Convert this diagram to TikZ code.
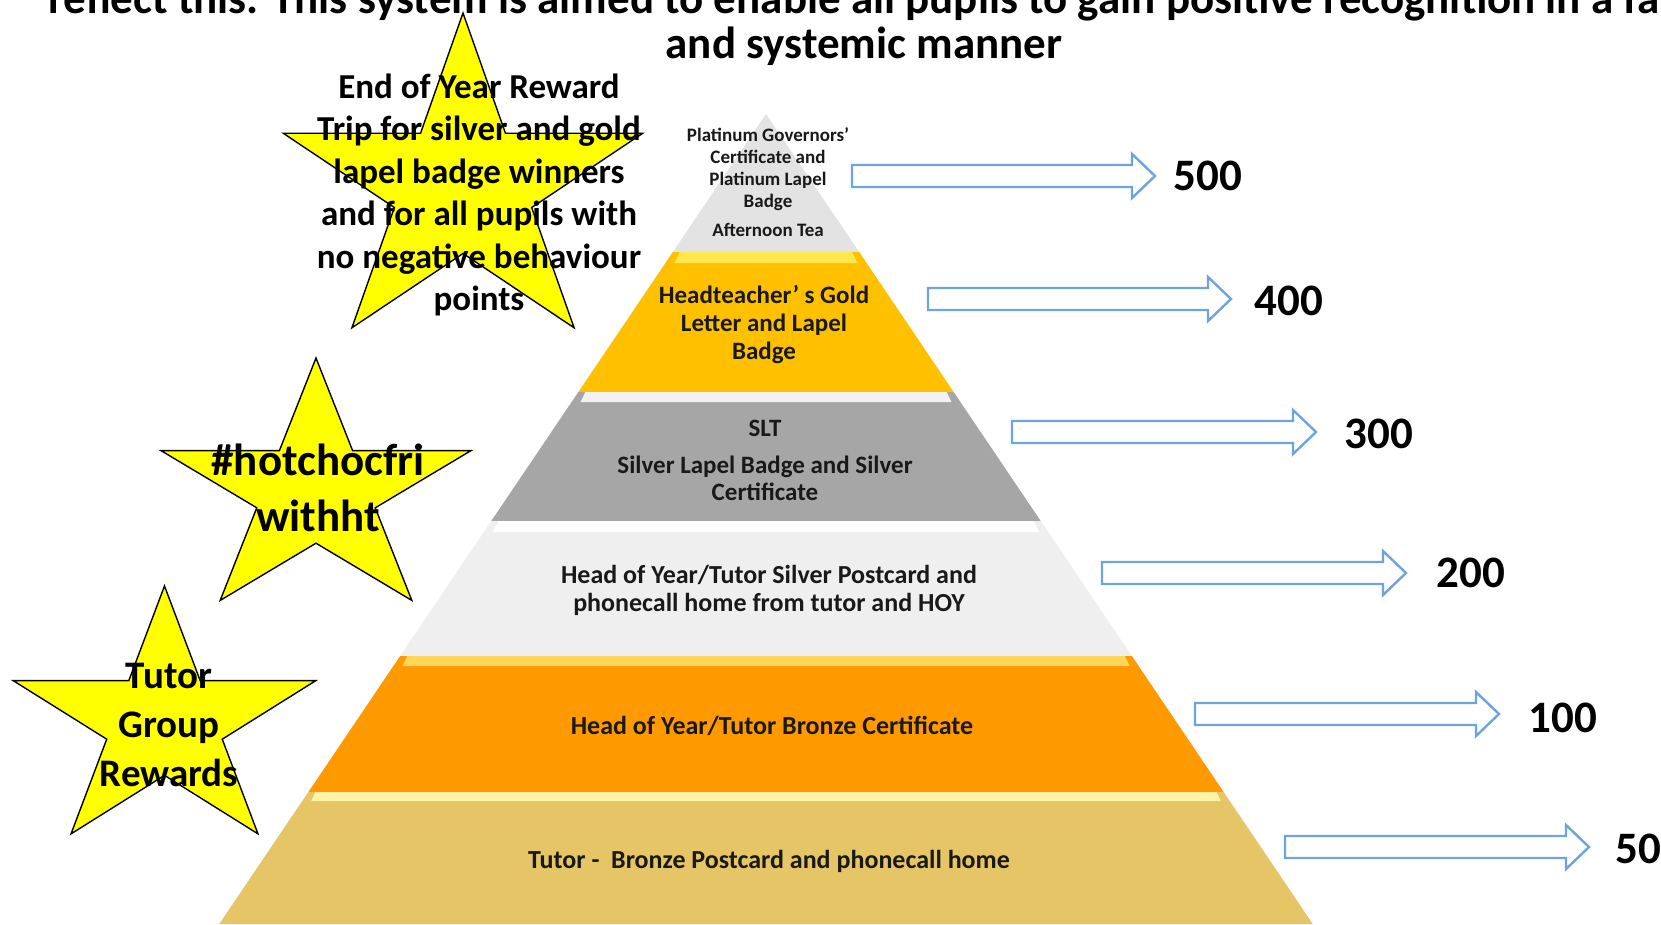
\documentclass[tikz,border=0pt]{standalone}
\usepackage{fontspec}
\setmainfont{Carlito}
\definecolor{plat}{HTML}{E3E3E3}
\definecolor{goldband}{HTML}{FFC000}
\definecolor{goldhi}{HTML}{FFE84D}
\definecolor{silverband}{HTML}{A6A6A6}
\definecolor{lgray}{HTML}{EFEFEF}
\definecolor{orng}{HTML}{FF9900}
\definecolor{orhi}{HTML}{FFD65A}
\definecolor{tanband}{HTML}{E5C566}
\definecolor{tanhi}{HTML}{FFF3A6}
\definecolor{arrowblue}{HTML}{6FA3DC}
\definecolor{staryellow}{HTML}{FFFF00}
\tikzset{
  starstyle/.style={fill=staryellow, draw=black, line width=1.4pt, line join=miter},
  blockarrow/.style={draw=arrowblue, fill=white, line width=2.4pt, line join=miter},
  startext/.style={align=center, inner sep=0pt, font=\bfseries},
  pyrtext/.style={align=center, inner sep=0pt, font=\bfseries, text=black!90},
  numlabel/.style={inner sep=0pt, font=\bfseries\fontsize{45}{50}\selectfont}
}
\newcommand\band[3]{\fill[#3] ({766-(#1-114)*0.675},#1) -- ({766+(#1-114)*0.675},#1) -- ({766+(#2-114)*0.675},#2) -- ({766-(#2-114)*0.675},#2) -- cycle;}
\newcommand\bevel[3]{\fill[#3] ({766-(#1-114)*0.675+7},#1) -- ({766+(#1-114)*0.675-7},#1) -- ({766+(#2-114)*0.675-9},#2) -- ({766-(#2-114)*0.675+9},#2) -- cycle;}
\newcommand\drawstar[4]{\draw[starstyle] plot[samples at={0,1,...,9}, variable=\k] ({#1+#3*(0.691+0.309*cos(180*\k))*cos(90+36*\k)},{#2-#4*(0.691+0.309*cos(180*\k))*sin(90+36*\k)}) -- cycle;}
\newcommand\barrow[3]{\draw[blockarrow] (#1,#3-11) -- (#2-23,#3-11) -- (#2-23,#3-22) -- (#2,#3) -- (#2-23,#3+22) -- (#2-23,#3+11) -- (#1,#3+11) -- cycle;}
\begin{document}
\begin{tikzpicture}[x=1pt, y=-1pt]
\path[use as bounding box] (0,0) rectangle (1661,924);
\clip (0,0) rectangle (1661,924);
\fill[white] (0,0) rectangle (1661,924);

% title
\node[anchor=base west, inner sep=0pt, font=\bfseries\fontsize{45}{54}\selectfont] (title1) at (48,13) {reflect this. This system is aimed to enable all pupils to gain positive recognition in a fair};
\node[anchor=base, inner sep=0pt, font=\bfseries\fontsize{45}{54}\selectfont] (title2) at (864,58) {and systemic manner};

% pyramid
\fill[plat] (766,114) -- ({766+(252-114)*0.675},252) -- ({766-(252-114)*0.675},252) -- cycle;
\band{252}{392}{goldband}
\bevel{252}{263}{goldhi}
\band{392}{521}{silverband}
\bevel{392}{402}{white!95!black}
\band{521}{656}{lgray}
\bevel{521}{532}{white}
\band{656}{792}{orng}
\bevel{656}{666}{orhi}
\band{792}{924}{tanband}
\bevel{792}{801}{tanhi}

% pyramid texts
\node[pyrtext, font=\bfseries\fontsize{19}{22}\selectfont] (platinum) at (768,182) {Platinum Governors'\\Certificate and\\Platinum Lapel\\Badge\\[7pt]Afternoon Tea};
\node[pyrtext, font=\bfseries\fontsize{25}{28}\selectfont] (gold) at (764,325) {Headteacher' s Gold\\Letter and Lapel\\Badge};
\node[pyrtext, font=\bfseries\fontsize{25}{27}\selectfont] (silver) at (765,460) {SLT\\[10pt]Silver Lapel Badge and Silver\\Certificate};
\node[pyrtext, font=\bfseries\fontsize{26}{28}\selectfont] (postcard) at (769,590) {Head of Year/Tutor Silver Postcard and\\phonecall home from tutor and HOY};
\node[pyrtext, font=\bfseries\fontsize{26}{28}\selectfont] (bronze) at (772,726) {Head of Year/Tutor Bronze Certificate};
\node[pyrtext, font=\bfseries\fontsize{26}{28}\selectfont] (tutor) at (769,861) {Tutor -\ \ Bronze Postcard and phonecall home};

% arrows and numbers
\barrow{852}{1155}{176}
\barrow{928}{1231}{299}
\barrow{1012}{1316}{432}
\barrow{1102}{1406}{573}
\barrow{1195}{1499}{714}
\barrow{1285}{1589}{847}
\node[numlabel] (n500) at (1208,176) {500};
\node[numlabel] (n400) at (1289,301) {400};
\node[numlabel] (n300) at (1379,434) {300};
\node[numlabel] (n200) at (1471,573) {200};
\node[numlabel] (n100) at (1563,718) {100};
\node[numlabel, anchor=west] (n50) at (1615,849) {50};

% stars
\drawstar{463}{187}{189}{174}
\drawstar{316}{492}{163}{134}
\drawstar{164.5}{723}{159}{137}
\node[startext, font=\bfseries\fontsize{35}{42.4}\selectfont] (star1) at (479,195) {End of Year Reward\\Trip for silver and gold\\lapel badge winners\\and for all pupils with\\no negative behaviour\\points};
\node[startext, font=\bfseries\fontsize{45}{56}\selectfont] (star2) at (318,488) {\#hotchocfri\\withht};
\node[startext, font=\bfseries\fontsize{39}{49}\selectfont] (star3) at (169,725) {Tutor\\Group\\Rewards};
\end{tikzpicture}
\end{document}
